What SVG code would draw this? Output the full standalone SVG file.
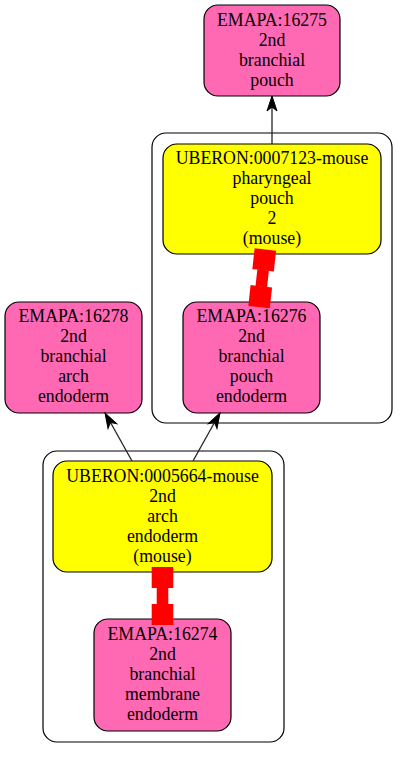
<svg xmlns="http://www.w3.org/2000/svg" xmlns:xlink="http://www.w3.org/1999/xlink" width="408" height="757" viewBox="0 0 408 757">
<style>
.cluster{fill:none;stroke:#000;stroke-width:1.2}
.emapa{fill:#ff69b4;stroke:#000;stroke-width:1.2}
.uberon{fill:#ffff00;stroke:#000;stroke-width:1.2}
.edge{fill:none;stroke:#222;stroke-width:1.3}
.head{fill:#000;stroke:#000;stroke-width:1}
.tee{fill:#ff0000}
.lbl{font-family:"Liberation Serif","Tinos","Times New Roman","DejaVu Serif",serif;font-size:17.8px;text-anchor:middle;fill:#000}
</style>
<defs>
<polygon id="vee" class="head" points="0,0 5,15 0,11 -5,15"/>
<g id="teepair">
<rect class="tee" x="-10.8" y="-29" width="21.6" height="21"/>
<rect class="tee" x="-5.8" y="-8.5" width="11.6" height="17"/>
<rect class="tee" x="-10.8" y="8" width="21.6" height="21"/>
</g>
</defs>
<rect fill="#fff" x="0" y="0" width="408" height="757"/>
<g id="clusters">
<rect id="cluster1" class="cluster" x="152" y="133" width="240" height="290" rx="14"/>
<rect id="cluster2" class="cluster" x="43" y="451" width="241" height="291" rx="14"/>
</g>
<g id="nodes" class="lbl">
<g id="node-EMAPA16275">
<rect class="emapa" x="204" y="5" width="136" height="91" rx="14"/>
<text x="272" y="26">EMAPA:16275</text>
<text x="272" y="46">2nd</text>
<text x="272" y="66">branchial</text>
<text x="272" y="86">pouch</text>
</g>
<g id="node-UBERON0007123">
<rect class="uberon" x="163" y="144" width="218" height="110" rx="14"/>
<text x="272" y="164">UBERON:0007123-mouse</text>
<text x="272" y="184">pharyngeal</text>
<text x="272" y="204">pouch</text>
<text x="272" y="224">2</text>
<text x="272" y="244">(mouse)</text>
</g>
<g id="node-EMAPA16276">
<rect class="emapa" x="183" y="302" width="137" height="111" rx="14"/>
<text x="251.5" y="322">EMAPA:16276</text>
<text x="251.5" y="342">2nd</text>
<text x="251.5" y="362">branchial</text>
<text x="251.5" y="382">pouch</text>
<text x="251.5" y="402">endoderm</text>
</g>
<g id="node-EMAPA16278">
<rect class="emapa" x="5" y="302" width="137" height="111" rx="14"/>
<text x="73.5" y="322">EMAPA:16278</text>
<text x="73.5" y="342">2nd</text>
<text x="73.5" y="362">branchial</text>
<text x="73.5" y="382">arch</text>
<text x="73.5" y="402">endoderm</text>
</g>
<g id="node-UBERON0005664">
<rect class="uberon" x="53" y="461" width="219" height="111" rx="14"/>
<text x="162.5" y="482">UBERON:0005664-mouse</text>
<text x="162.5" y="502">2nd</text>
<text x="162.5" y="522">arch</text>
<text x="162.5" y="542">endoderm</text>
<text x="162.5" y="562">(mouse)</text>
</g>
<g id="node-EMAPA16274">
<rect class="emapa" x="94" y="619" width="137" height="112" rx="14"/>
<text x="162.5" y="640">EMAPA:16274</text>
<text x="162.5" y="660">2nd</text>
<text x="162.5" y="680">branchial</text>
<text x="162.5" y="700">membrane</text>
<text x="162.5" y="720">endoderm</text>
</g>
</g>
<g id="connectors">
<line class="edge" x1="272" y1="144" x2="272" y2="106"/>
<use xlink:href="#vee" transform="translate(272,96)"/>
<line class="edge" x1="132" y1="461" x2="110.5" y2="422.5"/>
<use xlink:href="#vee" transform="translate(105,413) rotate(-29.4)"/>
<line class="edge" x1="193" y1="461" x2="214.5" y2="422.5"/>
<use xlink:href="#vee" transform="translate(220,413) rotate(29.4)"/>
<use xlink:href="#teepair" transform="translate(262.2,278.3) rotate(6.25)"/>
<use xlink:href="#teepair" transform="translate(162.5,596)"/>
</g>
</svg>
